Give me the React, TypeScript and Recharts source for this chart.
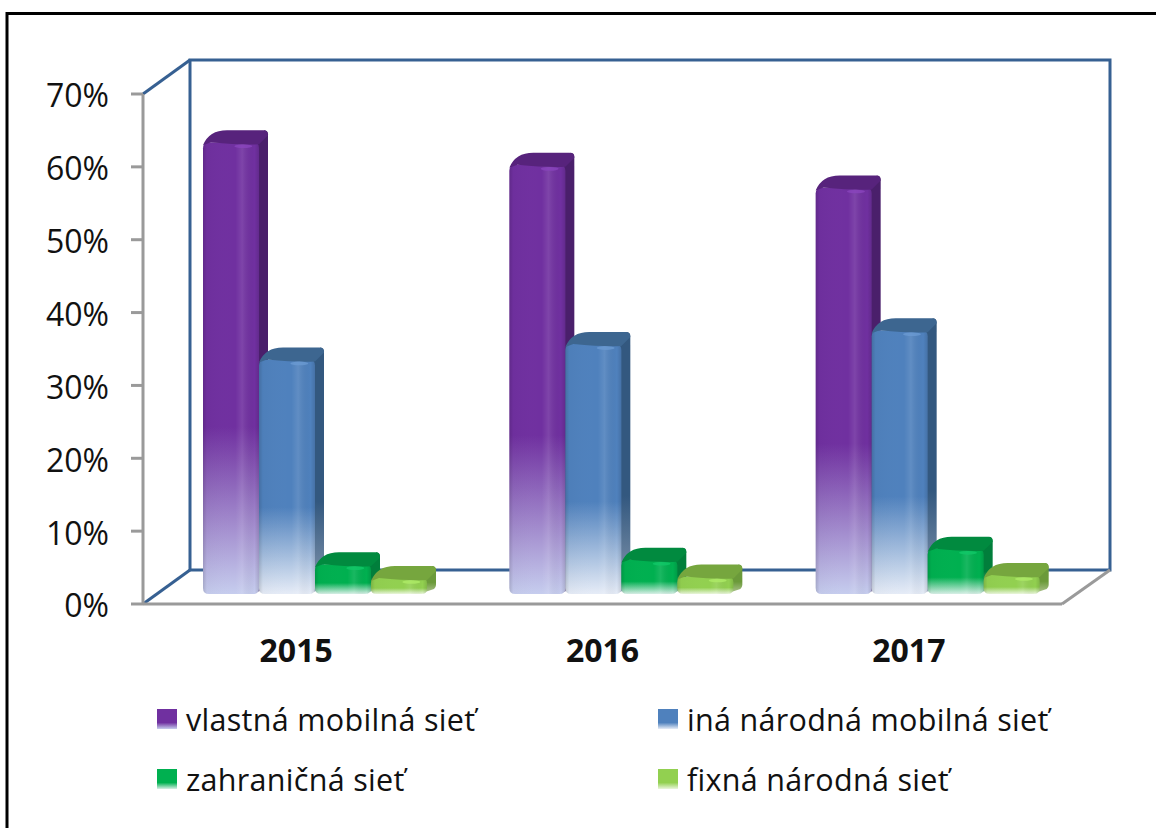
import React from 'react';
import { BarChart, Bar, XAxis, YAxis, Legend, Customized } from 'recharts';

const categories = ['2015', '2016', '2017'];
const vlastna = [62, 58.9, 55.8];
const ina = [32.2, 34.3, 36.2];
const zahranicna = [4.1, 4.7, 6.2];
const fixna = [2.2, 2.4, 2.6];
const yTicks = [0, 10, 20, 30, 40, 50, 60, 70];

const seriesNames = ['vlastná mobilná sieť', 'iná národná mobilná sieť', 'zahraničná sieť', 'fixná národná sieť'];

const data = categories.map((year, i) => ({
  year,
  a: vlastna[i],
  b: ina[i],
  c: zahranicna[i],
  d: fixna[i],
}));

const FONT = '"Open Sans", "Noto Sans", sans-serif';
const BLUE_LINE = '#366092';
const GRAY_LINE = '#9a9a9a';

const W = 1156;
const H = 828;
const LEFT = 143;
const RIGHT = 1062;
const TOP = 94;
const BOTTOM = 604;
const DX = 47;
const DY = -34;

const BAR_DX = 19;
const BAR_DY = -10;
const SIDE_X = 9;
const SIDE_Y = -12;

const palette: Record<string, { main: string; pale: string; side: string; sidePale: string; top: string; hi: string }> = {
  a: { main: '#7030a0', pale: '#c6cdee', side: '#4a1f6b', sidePale: '#7d6f9a', top: '#57237c', hi: '#8a45bd' },
  b: { main: '#4f81bd', pale: '#e6ecf7', side: '#33587f', sidePale: '#8497ae', top: '#3d6690', hi: '#6a9ad2' },
  c: { main: '#00b050', pale: '#d7efe6', side: '#017e3b', sidePale: '#7ab595', top: '#018a3f', hi: '#10c868' },
  d: { main: '#92d050', pale: '#eaf6dc', side: '#6b9a3a', sidePale: '#a8c088', top: '#76a63e', hi: '#aeeb66' },
};

const Defs = () => (
  <defs>
    {Object.keys(palette).map((k) => {
      const p = palette[k];
      return (
        <React.Fragment key={k}>
          <linearGradient id={`front-${k}`} x1="0" y1="0" x2="0" y2="1">
            <stop offset="0%" stopColor={p.main} />
            <stop offset="63%" stopColor={p.main} />
            <stop offset="100%" stopColor={p.pale} />
          </linearGradient>
          <linearGradient id={`side-${k}`} x1="0" y1="0" x2="0" y2="1">
            <stop offset="0%" stopColor={p.side} />
            <stop offset="63%" stopColor={p.side} />
            <stop offset="100%" stopColor={p.sidePale} />
          </linearGradient>
        </React.Fragment>
      );
    })}
    <linearGradient id="sheen" x1="0" y1="0" x2="1" y2="0">
      <stop offset="0%" stopColor="#000000" stopOpacity={0.14} />
      <stop offset="7%" stopColor="#000000" stopOpacity={0.02} />
      <stop offset="58%" stopColor="#ffffff" stopOpacity={0} />
      <stop offset="70%" stopColor="#ffffff" stopOpacity={0.1} />
      <stop offset="92%" stopColor="#000000" stopOpacity={0} />
      <stop offset="100%" stopColor="#000000" stopOpacity={0.12} />
    </linearGradient>
  </defs>
);

const Walls = () => {
  const bx = LEFT + DX;
  const by = TOP + DY;
  const fy = BOTTOM + DY;
  const rx = 1110;
  return (
    <g fill="none" strokeWidth={3}>
      <path d={`M${bx},${fy} L${bx},${by} L${rx},${by} L${rx},${fy} L${bx},${fy}`} stroke={BLUE_LINE} />
      <line x1={LEFT} y1={TOP} x2={bx} y2={by} stroke={BLUE_LINE} />
      <line x1={LEFT} y1={BOTTOM} x2={bx} y2={fy} stroke={BLUE_LINE} />
      <line x1={RIGHT} y1={BOTTOM} x2={rx} y2={fy} stroke={GRAY_LINE} />
    </g>
  );
};

const Frame = () => (
  <g fill="none" stroke="#000000" strokeWidth={3}>
    <path d={`M7,${H} L7,13.5 L${W},13.5`} />
  </g>
);

const Bar3D = (props: any) => {
  const { x, y, width, height, dataKey } = props;
  const k = String(dataKey);
  const p = palette[k];
  const l = x + BAR_DX;
  const r = l + width;
  const t = y + BAR_DY;
  const b = t + height;
  const rad = Math.min(6, height / 3);
  const frontD = `M${l},${t + rad} Q${l},${t} ${l + rad},${t} L${r - rad},${t} Q${r},${t} ${r},${t + rad} L${r},${b - rad} Q${r},${b} ${r - rad},${b} L${l + rad},${b} Q${l},${b} ${l},${b - rad} Z`;
  const sideD = `M${r - 2},${t + 1} L${r + SIDE_X - 4},${t + SIDE_Y} Q${r + SIDE_X},${t + SIDE_Y} ${r + SIDE_X},${t + SIDE_Y + 4} L${r + SIDE_X},${b + SIDE_Y + 3} Q${r + SIDE_X},${b + SIDE_Y + 5} ${r + SIDE_X - 2},${b + SIDE_Y + 7} L${r - 2},${b - 2} Z`;
  const topD = `M${l},${t + 3} Q${l + 6},${t + SIDE_Y} ${l + 24},${t + SIDE_Y} L${r + SIDE_X - 5},${t + SIDE_Y} Q${r + SIDE_X},${t + SIDE_Y} ${r + SIDE_X},${t + SIDE_Y + 5} L${r},${t + 2} Q${l + width * 0.7},${t + 3} ${l + 8},${t} Z`;
  return (
    <g>
      <path d={sideD} fill={`url(#side-${k})`} />
      <path d={frontD} fill={`url(#front-${k})`} />
      <path d={frontD} fill="url(#sheen)" />
      <path d={topD} fill={p.top} />
      <ellipse cx={l + width * 0.72} cy={t + 4} rx={width * 0.16} ry={1.8} fill={p.hi} opacity={0.8} />
    </g>
  );
};

const LegendBox = ({ payload }: any) => (
  <div style={{ position: 'relative', width: W, height: 120 }}>
    {(payload || []).map((entry: any, i: number) => {
      const p = palette[String(entry.dataKey)];
      return (
        <div
          key={entry.value}
          style={{
            position: 'absolute',
            left: i % 2 === 0 ? 157 : 658,
            top: i < 2 ? 0 : 60,
            display: 'flex',
            alignItems: 'center',
            height: 34,
            fontFamily: FONT,
            fontSize: 30.5,
            letterSpacing: 0.3,
            color: '#111111',
            whiteSpace: 'nowrap',
          }}
        >
          <span
            style={{
              display: 'inline-block',
              width: 20,
              height: 20,
              marginRight: 9,
              background: `linear-gradient(to bottom, ${p.main} 0%, ${p.main} 68%, ${p.pale} 100%)`,
            }}
          />
          {entry.value}
        </div>
      );
    })}
  </div>
);

export default function App() {
  return (
    <div style={{ position: 'absolute', left: 0, top: 0, width: W, height: H, background: '#ffffff', overflow: 'hidden' }}>
      <BarChart
        width={W}
        height={H}
        data={data}
        margin={{ top: TOP, right: W - RIGHT, bottom: H - BOTTOM - 60, left: LEFT - 110 }}
        barCategoryGap={41}
        barGap={0}
      >
        <Defs />
        <Customized component={Frame} />
        <Customized component={Walls} />
        <XAxis
          dataKey="year"
          height={60}
          tickLine={false}
          axisLine={{ stroke: GRAY_LINE, strokeWidth: 3 }}
          tick={{ fontFamily: FONT, fontSize: 32, fontWeight: 700, fill: '#111111', dy: 27 }}
        />
        <YAxis
          width={110}
          domain={[0, 70]}
          ticks={yTicks}
          interval={0}
          tickFormatter={(v: number) => `${v}%`}
          tickSize={12}
          tickMargin={22}
          tickLine={{ stroke: GRAY_LINE, strokeWidth: 3 }}
          axisLine={{ stroke: GRAY_LINE, strokeWidth: 3 }}
          tick={{ fontFamily: FONT, fontSize: 32, fill: '#111111', dy: 2 }}
        />
        <Bar dataKey="a" name={seriesNames[0]} fill={palette.a.main} isAnimationActive={false} shape={Bar3D} />
        <Bar dataKey="b" name={seriesNames[1]} fill={palette.b.main} isAnimationActive={false} shape={Bar3D} />
        <Bar dataKey="c" name={seriesNames[2]} fill={palette.c.main} isAnimationActive={false} shape={Bar3D} />
        <Bar dataKey="d" name={seriesNames[3]} fill={palette.d.main} isAnimationActive={false} shape={Bar3D} />
        <Legend
          layout="horizontal"
          align="center"
          verticalAlign="middle"
          itemSorter="dataKey"
          content={LegendBox}
          wrapperStyle={{ position: 'absolute', left: 0, top: 702, width: W, height: 120, margin: 0 }}
        />
      </BarChart>
    </div>
  );
}
